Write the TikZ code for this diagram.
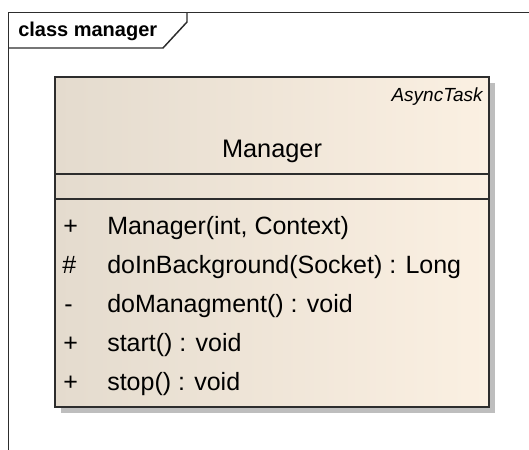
\documentclass[tikz,border=0pt]{standalone}
\usepackage{fontspec}
\setmainfont{Liberation Sans}
\definecolor{boxleft}{RGB}{228,219,206}
\definecolor{boxright}{RGB}{251,240,226}
\definecolor{edge}{RGB}{45,45,45}
\definecolor{shadowgray}{RGB}{190,190,190}
\tikzset{
  frameline/.style={draw=edge, line width=1.1pt},
  boxline/.style={draw=edge, line width=1.4pt},
  optext/.style={anchor=base west, inner sep=0pt, font=\fontsize{18.75}{22}\selectfont},
  vistext/.style={anchor=base west, inner sep=0pt, font=\fontsize{18.75}{22}\selectfont},
  nametext/.style={anchor=base, inner sep=0pt, font=\fontsize{19}{22}\selectfont},
  stereotext/.style={anchor=base east, inner sep=0pt, font=\fontsize{14.25}{17}\selectfont\itshape},
  tabtext/.style={anchor=base west, inner sep=0pt, font=\fontsize{15}{18}\selectfont\bfseries},
}
\begin{document}
\begin{tikzpicture}[x=0.75pt,y=-0.75pt]
\useasboundingbox (0,0) rectangle (529,450);

% diagram frame with its name tab
\draw[frameline] (8.5,450) -- (8.5,12.5) -- (529,12.5);
\draw[frameline] (8.5,48) -- (163,48) -- (187,22) -- (187,12.5);
\node[tabtext] (tab) at (18,36) {class manager};

% class box: shadow, gradient body, compartments
\coordinate (nw) at (55,77);
\coordinate (se) at (489,407);
\fill[shadowgray] (61,83) rectangle (495,413);
\shade[left color=boxleft, right color=boxright] (nw) rectangle (se);
\draw[boxline] (nw) rectangle (se);
\draw[boxline] (55,174) -- (489,174);
\draw[boxline] (55,199) -- (489,199);

\node[stereotext] (stereo) at (483,101) {AsyncTask};
\node[nametext] (name) at (272,157) {Manager};

% operations
\node[vistext] (v1) at (63,234) {+};
\node[optext]  (o1) at (107,234) {Manager(int, Context)};
\node[vistext] (v2) at (62,273) {\#};
\node[optext]  (o2) at (107,273) {doInBackground(Socket) : Long};
\node[vistext] (v3) at (64,312) {-};
\node[optext]  (o3) at (107,312) {doManagment() : void};
\node[vistext] (v4) at (63,351) {+};
\node[optext]  (o4) at (107,351) {start() : void};
\node[vistext] (v5) at (63,390) {+};
\node[optext]  (o5) at (107,390) {stop() : void};
\end{tikzpicture}
\end{document}
